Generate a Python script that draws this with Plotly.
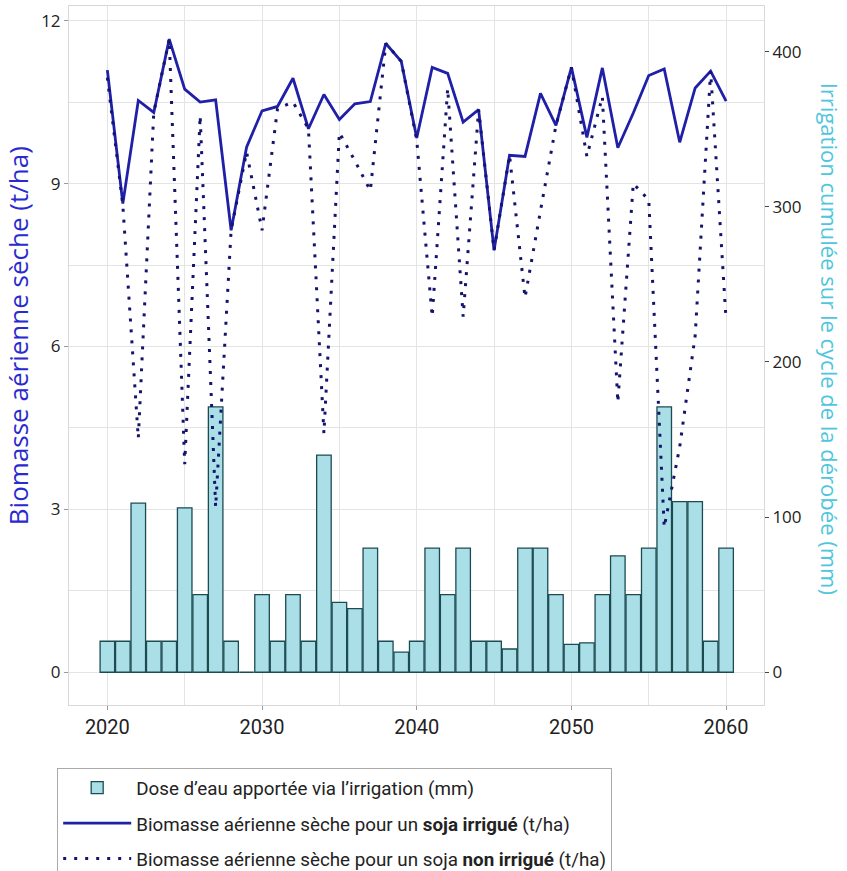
import plotly.graph_objects as go

years = list(range(2020, 2061))
irrigation_mm = [20, 20, 109, 20, 20, 106, 50, 171, 20, 0,
                 50, 20, 50, 20, 140, 45, 41, 80, 20, 13,
                 20, 80, 50, 80, 20, 20, 15, 80, 80, 50,
                 18, 19, 50, 75, 50, 80, 171, 110, 110, 20,
                 80]
biomass_irrigated = [11.09, 8.63, 10.53, 10.31, 11.66, 10.74, 10.50, 10.54, 8.14, 9.67,
                     10.34, 10.42, 10.94, 10.01, 10.64, 10.18, 10.47, 10.51, 11.58, 11.25,
                     9.84, 11.14, 11.03, 10.13, 10.36, 7.77, 9.52, 9.50, 10.66, 10.07,
                     11.14, 9.85, 11.13, 9.66, 10.30, 10.99, 11.11, 9.76, 10.76, 11.07,
                     10.52]
biomass_non_irrigated = [10.95, 8.60, 4.31, 10.31, 11.66, 3.83, 10.25, 3.04, 8.14, 9.58,
                         8.14, 10.38, 10.50, 10.01, 4.40, 9.94, 9.42, 8.87, 11.58, 11.25,
                         9.80, 6.55, 10.75, 6.55, 10.36, 7.77, 9.52, 6.90, 8.50, 10.07,
                         11.14, 9.50, 10.60, 4.97, 9.00, 8.70, 2.67, 4.15, 6.20, 11.07,
                         6.48]

left_ticks = [0, 3, 6, 9, 12]
right_ticks = [0, 100, 200, 300, 400]
x_ticks = [2020, 2030, 2040, 2050, 2060]

fig = go.Figure()

fig.add_trace(go.Bar(
    x=years, y=irrigation_mm, yaxis="y",
    name="Dose d\u2019eau apportée via l\u2019irrigation (mm)",
    marker=dict(color="#aadfe8", line=dict(color="#1d4b52", width=1.3)),
    legendgroup="a",
))
fig.add_trace(go.Scatter(
    x=years, y=biomass_irrigated, yaxis="y2", mode="lines",
    name="Biomasse aérienne sèche pour un <b>soja irrigué</b> (t/ha)",
    line=dict(color="#1f1fa8", width=2.8),
    legendgroup="b",
))
fig.add_trace(go.Scatter(
    x=years, y=biomass_non_irrigated, yaxis="y2", mode="lines",
    name="Biomasse aérienne sèche pour un soja <b>non irrigué</b> (t/ha)",
    line=dict(color="#14146e", width=3, dash="3px,8px"),
    legendgroup="c",
))

grid = "#e4e4e4"
frame = "#d8d8d8"

fig.update_layout(
    width=847, height=871,
    margin=dict(l=69, r=83, t=6, b=166),
    plot_bgcolor="white", paper_bgcolor="white",
    bargap=0.06,
    font=dict(family="Open Sans", color="#222"),
    xaxis=dict(
        range=[2017.52, 2062.45],
        tickvals=x_ticks,
        showgrid=True, gridcolor=grid,
        minor=dict(dtick=5, tick0=2020, showgrid=True, gridcolor=grid, ticklen=0),
        ticks="outside", ticklen=4, tickcolor="#999",
        tickfont=dict(family="Roboto", size=20, color="#222"),
        showline=True, linecolor=frame, mirror=True,
        zeroline=False,
    ),
    yaxis=dict(
        side="right",
        range=[-21.1, 429.45],
        tickvals=right_ticks,
        showgrid=False, zeroline=False,
        ticks="outside", ticklen=4, tickcolor="#444",
        tickfont=dict(family="Open Sans", size=17, color="#222"),
        showline=True, linecolor=frame, mirror=True,
    ),
    yaxis2=dict(
        side="left", overlaying="y",
        range=[-0.603, 12.27],
        tickvals=left_ticks,
        showgrid=True, gridcolor=grid,
        minor=dict(dtick=1.5, tick0=0, showgrid=True, gridcolor=grid, ticklen=0),
        zeroline=False,
        ticks="outside", ticklen=4, tickcolor="#999",
        tickfont=dict(family="Open Sans", size=17, color="#222"),
        showline=True, linecolor=frame,
    ),
    showlegend=True,
    legend=dict(
        xref="paper", yref="container",
        x=-0.017, y=1 - 768 / 871, xanchor="left", yanchor="top",
        bordercolor="#aaaaaa", borderwidth=1, bgcolor="white",
        font=dict(family="Roboto", size=18.8, color="#222"),
        itemwidth=68, tracegroupgap=8, traceorder="grouped",
    ),
    annotations=[
        dict(text="Biomasse aérienne sèche (t/ha)", xref="paper", yref="paper",
             x=-0.073, y=0.528, xanchor="center", yanchor="middle",
             textangle=-90, showarrow=False,
             font=dict(family="Open Sans", size=26, color="#2a2ad0")),
        dict(text="Irrigation cumulée sur le cycle de la dérobée (mm)", xref="paper", yref="paper",
             x=1.095, y=0.524, xanchor="center", yanchor="middle",
             textangle=90, showarrow=False,
             font=dict(family="Open Sans", size=22, color="#4ec6dc")),
    ],
)

fig.write_html("out.html", config={"displayModeBar": False},
               post_script="document.body.style.margin='0px';")
